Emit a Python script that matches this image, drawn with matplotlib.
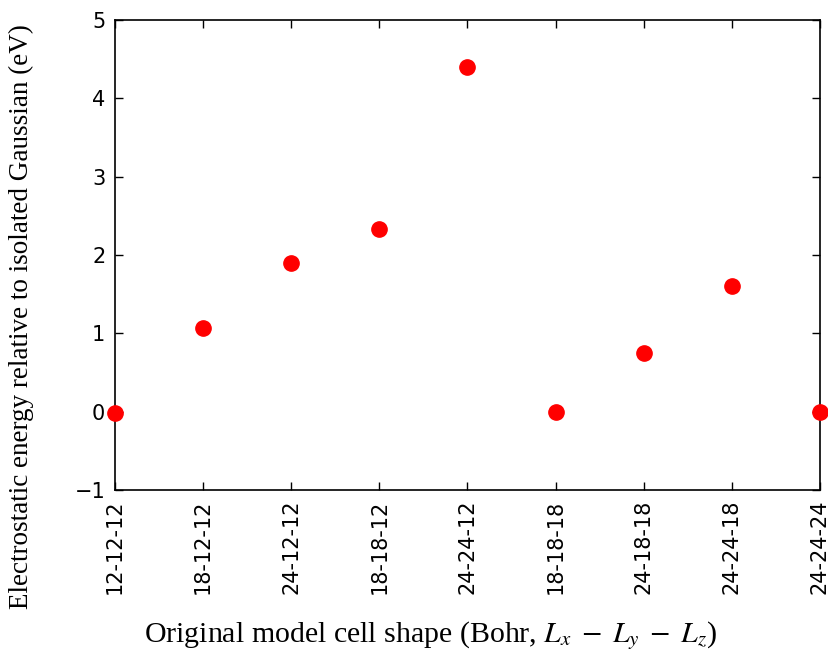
import matplotlib
matplotlib.use("Agg")
import matplotlib.pyplot as plt

categories = ["12-12-12", "18-12-12", "24-12-12", "18-18-12", "24-24-12",
              "18-18-18", "24-18-18", "24-24-18", "24-24-24"]
energies = [-0.02, 1.07, 1.90, 2.33, 4.40, 0.00, 0.75, 1.60, 0.00]
yticks = [-1, 0, 1, 2, 3, 4, 5]

plt.rcParams['mathtext.fontset'] = 'stix'

W, H = 829, 655
fig = plt.figure(figsize=(W/100, H/100), dpi=100)
ax = fig.add_axes([115/W, 1-490/H, (820-115)/W, (490-20)/H])

x = list(range(len(categories)))
ax.plot(x, energies, 'o', color='#ff0000', markeredgecolor='#ff0000',
        markersize=11, clip_on=False, zorder=5)

ax.set_xlim(0, len(categories)-1)
ax.set_ylim(-1, 5)
ax.set_xticks(x)
ax.set_xticklabels(categories, rotation=90, fontsize=15)
ax.set_yticks(yticks)
ax.set_yticklabels([("\u2212" + str(-v)) if v < 0 else str(v) for v in yticks], fontsize=15)
ax.tick_params(direction='in', top=True, right=True, length=6, width=1, pad=7)
for s in ax.spines.values():
    s.set_linewidth(1.2)

fig.text(431/W, 1-636/H, r"Original model cell shape (Bohr, $L_x\;-\;L_y\;-\;L_z$)",
         fontsize=21.5, family='Liberation Serif', ha='center', va='center')
fig.text(21/W, 1-317/H, "Electrostatic energy relative to isolated Gaussian (eV)",
         fontsize=19.5, family='Liberation Serif', ha='center', va='center',
         rotation=90)

fig.savefig("out.png", dpi=100)
